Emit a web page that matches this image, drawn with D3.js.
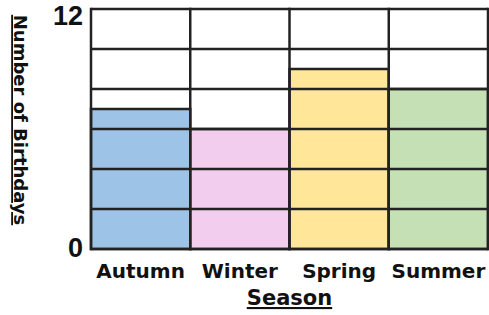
<!DOCTYPE html>
<html>
<head>
<meta charset="utf-8">
<script src="https://cdn.jsdelivr.net/npm/d3@7"></script>
<style>
  body { margin: 0; background: #fff; }
  text { font-family: "DejaVu Sans", sans-serif; font-weight: bold; fill: #111; }
  .tick-num { font-family: "Liberation Sans", Arial, sans-serif; font-size: 27px; }
</style>
</head>
<body>
<svg id="chart"></svg>
<script>
var seasons = ["Autumn", "Winter", "Spring", "Summer"];
var birthdays = [7, 6, 9, 8];
var colours = ["#9dc3e6", "#f2cdee", "#ffe699", "#c5e0b4"];
var gridValues = [0, 2, 4, 6, 8, 10, 12];
var tickLabels = [0, 12];

var screen = {width: 489, height: 315};
var margins = {top: 9, bottom: 66, left: 91, right: 1};
var graph = {
    width: screen.width - margins.left - margins.right,
    height: screen.height - margins.top - margins.bottom
};

var svg = d3.select("#chart")
    .attr("width", screen.width)
    .attr("height", screen.height);

var xScale = d3.scaleBand()
    .domain(seasons)
    .range([margins.left, margins.left + graph.width])
    .padding(0);

var yScale = d3.scaleLinear()
    .domain([0, 12])
    .range([margins.top + graph.height, margins.top]);

// bars
svg.append("g")
    .selectAll("rect")
    .data(seasons)
    .enter()
    .append("rect")
    .attr("x", function(s) { return xScale(s); })
    .attr("width", xScale.bandwidth())
    .attr("y", function(s, i) { return yScale(birthdays[i]); })
    .attr("height", function(s, i) { return yScale(0) - yScale(birthdays[i]); })
    .attr("fill", function(s, i) { return colours[i]; })
    .attr("stroke", "#222")
    .attr("stroke-width", 2.5);

// horizontal grid
svg.append("g")
    .selectAll("line")
    .data(gridValues)
    .enter()
    .append("line")
    .attr("x1", margins.left)
    .attr("x2", margins.left + graph.width)
    .attr("y1", function(v) { return yScale(v); })
    .attr("y2", function(v) { return yScale(v); })
    .attr("stroke", "#222")
    .attr("stroke-width", 2.5);

// vertical column lines
var edges = seasons.map(function(s) { return xScale(s); });
edges.push(margins.left + graph.width);
svg.append("g")
    .selectAll("line")
    .data(edges)
    .enter()
    .append("line")
    .attr("x1", function(x) { return x; })
    .attr("x2", function(x) { return x; })
    .attr("y1", yScale(12) - 1.25)
    .attr("y2", yScale(0) + 1.25)
    .attr("stroke", "#222")
    .attr("stroke-width", 2.5);

// y tick labels
svg.append("g")
    .selectAll("text")
    .data(tickLabels)
    .enter()
    .append("text")
    .classed("tick-num", true)
    .attr("text-anchor", "end")
    .attr("x", 83)
    .attr("y", function(v) { return v == 12 ? yScale(v) + 16 : yScale(v) + 8; })
    .text(function(v) { return v; });

// category labels
svg.append("g")
    .selectAll("text")
    .data(seasons)
    .enter()
    .append("text")
    .attr("text-anchor", "middle")
    .attr("font-size", 20)
    .attr("x", function(s) { return xScale(s) + xScale.bandwidth() / 2; })
    .attr("y", 278)
    .text(function(s) { return s; });

// axis titles
svg.append("text")
    .text("Season")
    .attr("text-anchor", "middle")
    .attr("font-size", 21)
    .attr("text-decoration", "underline")
    .attr("x", margins.left + graph.width / 2)
    .attr("y", 305);

svg.append("text")
    .text("Number of Birthdays")
    .attr("text-anchor", "middle")
    .attr("font-size", 18)
    .attr("text-decoration", "underline")
    .attr("transform", "translate(14," + 120 + ") rotate(90)");
</script>
</body>
</html>
